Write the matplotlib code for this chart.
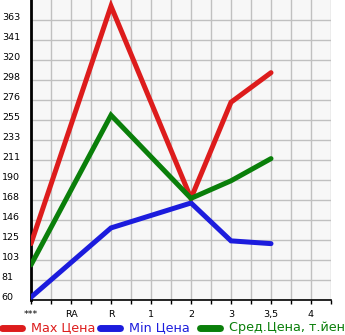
import numpy as np
import matplotlib.pyplot as plt
from matplotlib.lines import Line2D
from matplotlib.ticker import FixedLocator

categories = ['***', 'RA', 'R', '1', '2', '3', '3,5', '4']
max_price = [121, None, 378, None, 170, 274, 306]
min_price = [63, None, 138, None, 165, 124, 121]
avg_price = [98, None, 260, None, 170, 189, 213]
y_ticks = [60, 81.6, 103.3, 124.9, 146.6, 168.2, 189.9, 211.5, 233.1,
           254.8, 276.4, 298.1, 319.7, 341.4, 363]
y_labels = ['60', '81', '103', '125', '146', '168', '190', '211', '233',
            '255', '276', '298', '320', '341', '363']


def series_xy(values):
    xs = [i for i, v in enumerate(values) if v is not None]
    ys = [v for v in values if v is not None]
    return xs, ys


W, H = 345, 335
fig = plt.figure(figsize=(W / 100, H / 100), dpi=100)
ax = fig.add_axes([31 / W, 35 / H, 300 / W, 300 / H])
ax.set_facecolor('#f7f7f7')

styles = [(max_price, '#dd1c1c', 'Max Цена'),
          (min_price, '#1c1cdd', 'Min Цена'),
          (avg_price, '#0a7f0a', 'Сред.Цена, т.йен')]
for vals, col, lab in styles:
    xs, ys = series_xy(vals)
    ax.plot(xs, ys, color=col, lw=3.6, solid_capstyle='round',
            solid_joinstyle='miter', zorder=3)

ax.set_xlim(0, 7.5)
ax.set_ylim(60, 60 + 300 * (363 - 60) / 280)
ax.xaxis.set_major_locator(FixedLocator(range(len(categories))))
ax.set_xticklabels(categories, fontsize=6.8)
ax.xaxis.set_minor_locator(FixedLocator(np.arange(0.5, 7.6, 1)))
ax.set_yticks(y_ticks)
ax.set_yticklabels(y_labels, fontsize=6.8)
ax.tick_params(axis='y', length=0, pad=21)
for lbl in ax.get_yticklabels():
    lbl.set_ha('left')
    lbl.set_va('baseline')
ax.tick_params(axis='x', which='both', length=3, width=1, direction='out', pad=4)
ax.grid(True, which='both', color='#c0c0c0', lw=1)
ax.set_axisbelow(True)
for s in ['top', 'right']:
    ax.spines[s].set_visible(False)
ax.spines['left'].set_linewidth(2)
ax.spines['bottom'].set_linewidth(1.2)

# legend drawn by hand along the bottom edge
ly = 1 - 328 / H
for (vals, col, lab), x0 in zip(styles, [2, 100, 200]):
    fig.add_artist(Line2D([x0 / W, (x0 + 20) / W], [ly, ly], color=col, lw=5,
                          solid_capstyle='round', transform=fig.transFigure))
    fig.text((x0 + 29) / W, ly, lab, color=col, fontsize=9.2,
             ha='left', va='center')

fig.savefig('out.png', dpi=100)
